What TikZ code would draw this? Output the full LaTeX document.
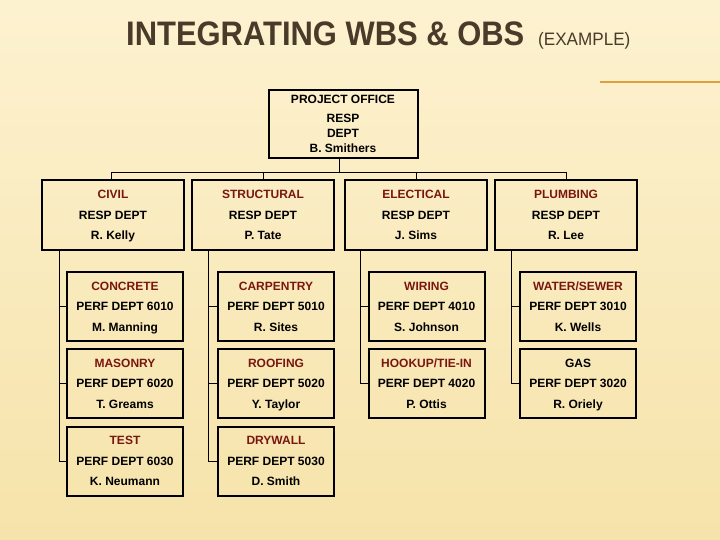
\documentclass[tikz,border=0pt]{standalone}
\usepackage{fontspec}
\setmainfont{Liberation Sans}
\usepackage{xcolor}
\usepackage{tikz}
\usetikzlibrary{positioning}

\definecolor{slidetop}{RGB}{253,242,208}
\definecolor{slidebot}{RGB}{246,227,170}
\definecolor{titlebrown}{RGB}{74,58,42}
\definecolor{grpred}{RGB}{122,22,16}
\definecolor{rulecol}{RGB}{226,160,60}
\newcommand{\grp}[1]{\textcolor{grpred}{#1}}
\newcommand{\card}[3]{#1\strut\\#2\\#3\strut}

\begin{document}
\begin{tikzpicture}[x=1pt,y=-1pt,
  box/.style={draw=black,line width=2pt,align=center,inner sep=2pt,font=\fontsize{12}{20.5}\selectfont\bfseries},
  dept/.style={box,minimum width=142pt,minimum height=70pt},
  perf/.style={box,minimum width=116pt,minimum height=69pt},
  link/.style={line width=0.9pt,black}
]

% slide background
\fill[top color=slidetop,bottom color=slidebot] (0,0) rectangle (720,540);
\useasboundingbox (0,0) rectangle (720,540);
\draw[rulecol,line width=2pt] (600,82) -- (720,82);

\node[anchor=base west,inner sep=0,text=titlebrown,xscale=0.91,font=\fontsize{34}{34}\selectfont\bfseries] (title) at (126,46) {INTEGRATING WBS \& OBS};
\node[anchor=base west,inner sep=0,text=titlebrown,xscale=0.95,font=\fontsize{18}{18}\selectfont] (note) at (538,46) {(EXAMPLE)};

\node[box,minimum width=149pt,minimum height=68pt,font=\fontsize{12}{15}\selectfont\bfseries] (office) at (343,124) {PROJECT OFFICE\\[4pt]RESP\\DEPT\\B. Smithers};

% responsible departments
\node[dept] (civil) at (113,215) {\card{\grp{CIVIL}}{RESP DEPT}{R. Kelly}};
\node[dept] (struct) at (263,215) {\card{\grp{STRUCTURAL}}{RESP DEPT}{P. Tate}};
\node[dept] (elec) at (416,215) {\card{\grp{ELECTICAL}}{RESP DEPT}{J. Sims}};
\node[dept] (plumb) at (566,215) {\card{\grp{PLUMBING}}{RESP DEPT}{R. Lee}};

% performing departments
\node[perf] (concrete) at (125,306.5) {\card{\grp{CONCRETE}}{PERF DEPT 6010}{M. Manning}};
\node[perf] (masonry) at (125,383.5) {\card{\grp{MASONRY}}{PERF DEPT 6020}{T. Greams}};
\node[perf] (test) at (125,461) {\card{\grp{TEST}}{PERF DEPT 6030}{K. Neumann}};

\node[perf] (carpentry) at (276,306.5) {\card{\grp{CARPENTRY}}{PERF DEPT 5010}{R. Sites}};
\node[perf] (roofing) at (276,383.5) {\card{\grp{ROOFING}}{PERF DEPT 5020}{Y. Taylor}};
\node[perf] (drywall) at (276,461) {\card{\grp{DRYWALL}}{PERF DEPT 5030}{D. Smith}};

\node[perf] (wiring) at (426.5,306.5) {\card{\grp{WIRING}}{PERF DEPT 4010}{S. Johnson}};
\node[perf] (hookup) at (426.5,383.5) {\card{\grp{HOOKUP/TIE-IN}}{PERF DEPT 4020}{P. Ottis}};

\node[perf] (water) at (578,306.5) {\card{\grp{WATER/SEWER}}{PERF DEPT 3010}{K. Wells}};
\node[perf] (gas) at (578,383.5) {\card{GAS}{PERF DEPT 3020}{R. Oriely}};

% office to departments
\draw[link] ([xshift=-4pt]office.south) -- ++(0,13) -| ([xshift=-2pt]civil.north);
\draw[link] ([xshift=-4pt]office.south) -- ++(0,13) -| (struct.north);
\draw[link] ([xshift=-4pt]office.south) -- ++(0,13) -| (elec.north);
\draw[link] ([xshift=-4pt]office.south) -- ++(0,13) -| (plumb.north);

% departments to performing units
\draw[link] ([xshift=18pt]civil.south west) |- (concrete.west);
\draw[link] ([xshift=18pt]civil.south west) |- (masonry.west);
\draw[link] ([xshift=18pt]civil.south west) |- (test.west);
\draw[link] ([xshift=17pt]struct.south west) |- (carpentry.west);
\draw[link] ([xshift=17pt]struct.south west) |- (roofing.west);
\draw[link] ([xshift=17pt]struct.south west) |- (drywall.west);
\draw[link] ([xshift=16pt]elec.south west) |- (wiring.west);
\draw[link] ([xshift=16pt]elec.south west) |- (hookup.west);
\draw[link] ([xshift=17pt]plumb.south west) |- (water.west);
\draw[link] ([xshift=17pt]plumb.south west) |- (gas.west);

\end{tikzpicture}
\end{document}
